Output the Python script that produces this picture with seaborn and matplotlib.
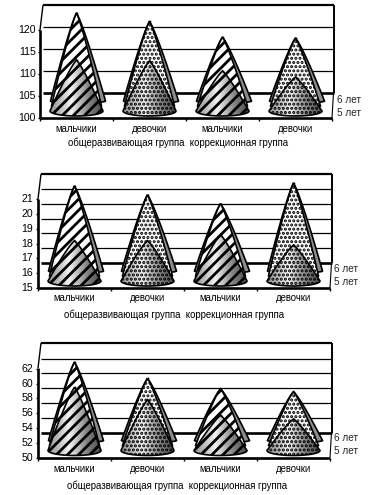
import numpy as np
import pandas as pd
import matplotlib
matplotlib.use("Agg")
import matplotlib.pyplot as plt
from matplotlib.patches import Polygon
import seaborn as sns

categories = ["мальчики", "девочки", "мальчики", "девочки"]
group_text = "общеразвивающая группа  коррекционная группа"
series_names = ["6 лет", "5 лет"]

c1_six = [123.9, 122.0, 118.4, 118.2]
c1_five = [113.2, 113.0, 110.7, 109.3]
c1_ticks = [100, 105, 110, 115, 120]

c2_six = [21.9, 21.3, 20.7, 22.1]
c2_five = [18.2, 18.2, 18.6, 17.9]
c2_ticks = [15, 16, 17, 18, 19, 20, 21]

c3_six = [62.9, 60.7, 59.3, 58.9]
c3_five = [59.5, 57.8, 55.7, 55.2]
c3_ticks = [50, 52, 54, 56, 58, 60, 62]

W, H = 372, 495
sns.set_theme(style="white")
plt.rcParams["font.family"] = ["Liberation Sans", "DejaVu Sans"]
plt.rcParams["hatch.linewidth"] = 1.7

fig = plt.figure(figsize=(W / 100, H / 100), dpi=100, facecolor="white")

grad = np.interp(np.linspace(0, 1, 80), [0, 0.15, 0.4, 0.75, 1], [0.6, 0.7, 0.95, 0.5, 0.3])[None, :]


def panel(six, five, ticks, left, right, floor, ppu, wall_top, tick_x, cat_dy, grp_dy, grp_x, ser_x, ser_y):
    v0 = ticks[0]
    ax = fig.add_axes([left / W, 1 - floor / H, (right - left) / W, (floor - wall_top) / H])
    ymax = v0 + (floor - wall_top) / ppu
    ax.set_xlim(-0.5, 3.5)
    ax.set_ylim(v0, ymax)
    ax.axis("off")
    xpp = 4 / (right - left)
    dx = lambda p: p * xpp
    dy = lambda p: p / ppu
    kw = dict(color="black", clip_on=False, solid_capstyle="butt")
    depth = dy(25)
    wl, wr = -0.5 + dx(3), 3.5 + dx(1.5)
    # back wall, grid lines and floor
    for t in ticks[1:]:
        gv = t + depth
        if gv < ymax - dy(1):
            ax.plot([wl, wr], [gv, gv], lw=0.9, zorder=1, **kw)
    ax.plot([wl, wr], [v0 + depth] * 2, lw=1.9, zorder=1, **kw)
    ax.plot([wl, wr], [ymax, ymax], lw=1.6, zorder=1, **kw)
    ax.plot([wr, wr], [v0 + depth, ymax], lw=1.4, zorder=1, **kw)
    ax.plot([wl, -0.5], [ymax, ymax - depth], lw=1.0, zorder=1, **kw)
    ax.plot([-0.5, -0.5], [v0, ymax - depth], lw=1.9, zorder=5, **kw)
    ax.plot([-0.5, 3.5], [v0, v0], lw=1.9, zorder=5, **kw)
    ax.plot([3.5, wr], [v0, v0 + depth], lw=0.8, zorder=1, **kw)
    for b in range(5):
        ax.plot([b - 0.5] * 2, [v0, v0 - dy(3)], lw=1.0, **kw)
    for t in ticks:
        ax.plot([-0.5 - dx(2), -0.5], [t, t], lw=1.0, **kw)
        ax.text(-0.5 + dx(tick_x - left), t, str(t), ha="right", va="center", fontsize=7.6, color="black")

    def cone(c, apex, base_px, hw_px, hh_px, z, hatch, gradient=False, face="white", shift=0.0, hatchlw=None):
        th = np.linspace(np.pi, 2 * np.pi, 24)
        xs = c + dx(shift) + dx(hw_px) * np.cos(th)
        base_y = v0 + dy(base_px)
        ys = base_y + dy(hh_px) * np.sin(th)
        f = np.linspace(0, 1, 16)[1:-1]
        lside = [(c + (xs[0] - c) * q ** 0.86, apex + (base_y - apex) * q) for q in f]
        rside = [(c + (xs[-1] - c) * q ** 0.86, apex + (base_y - apex) * q) for q in f[::-1]]
        pts = [(c, apex)] + lside + list(zip(xs, ys)) + rside
        fc = "none" if gradient else face
        base = Polygon(pts, closed=True, facecolor=fc, edgecolor="none", zorder=z, clip_on=False)
        ax.add_patch(base)
        if gradient:
            im = ax.imshow(grad, cmap="gray", vmin=0, vmax=1, aspect="auto", zorder=z,
                           extent=[c - dx(hw_px), c + dx(hw_px), v0, apex], interpolation="bilinear")
            im.set_clip_path(base)
        top = Polygon(pts, closed=True, facecolor="none", edgecolor="black", lw=1.2,
                      hatch=hatch, zorder=z + 0.1, clip_on=False)
        if hatchlw is not None and hasattr(top, "set_hatch_linewidth"):
            top.set_hatch_linewidth(hatchlw)
        ax.add_patch(top)

    for i in range(4):
        pat = "///" if i % 2 == 0 else "...."
        lw = 2.0 if i % 2 == 0 else 1.5
        cone(i, six[i], 17, 27.5, 2, 2 + i * 0.01, None, face="#8c8c8c", shift=1.5)
        cone(i, six[i], 12, 25, 1.5, 3 + i * 0.01, pat, hatchlw=lw)
        cone(i, five[i], 7, 26.5, 5, 4 + i * 0.01, pat, gradient=True, hatchlw=lw)
        ax.text(i, v0 - dy(cat_dy), categories[i], ha="center", va="center", fontsize=6.9, color="black")
    ax.text(-0.5 + dx(grp_x - left), v0 - dy(grp_dy), group_text, ha="center", va="center",
            fontsize=6.95, color="black")
    ax.text(-0.5 + dx(ser_x - left), v0 + dy(floor - ser_y[0]), series_names[0], ha="left", va="center", fontsize=7.2)
    ax.text(-0.5 + dx(ser_x - left), v0 + dy(floor - ser_y[1]), series_names[1], ha="left", va="center", fontsize=7.2)

    df = pd.DataFrame({
        "group": list(range(4)) * 2,
        "value": list(six) + list(five),
        "series": [series_names[0]] * 4 + [series_names[1]] * 4,
    })
    sns.scatterplot(data=df, x="group", y="value", ax=ax, color="black", s=1.5, linewidth=0,
                    legend=False, zorder=6, clip_on=False)
    ax.set_xlim(-0.5, 3.5)
    ax.set_ylim(v0, ymax)


panel(c1_six, c1_five, c1_ticks, 40, 332, 118, 4.4, 5, 36, 11, 25, 178, 337, (100, 113))
panel(c2_six, c2_five, c2_ticks, 38, 330, 288, 14.8, 174, 33, 10, 27, 174, 334, (269, 282))
panel(c3_six, c3_five, c3_ticks, 38, 330, 457.5, 7.4, 343, 33, 11.5, 28.5, 177, 334, (438, 451))

fig.savefig("out.png", dpi=100, facecolor="white")
